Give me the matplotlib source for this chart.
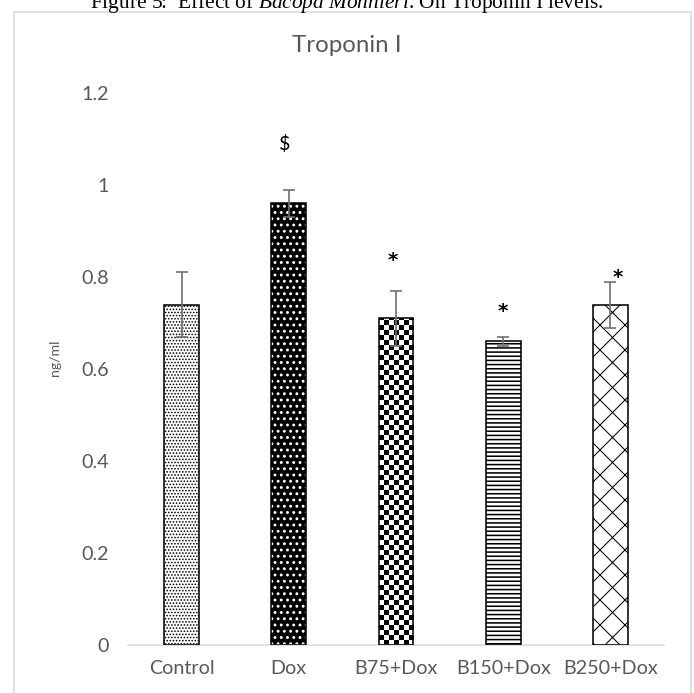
import numpy as np
import matplotlib
matplotlib.use('Agg')
import matplotlib.pyplot as plt
from matplotlib.patches import Rectangle

plt.rcParams['font.family'] = ['Lato', 'DejaVu Sans']
plt.rcParams['mathtext.fontset'] = 'custom'
plt.rcParams['mathtext.rm'] = 'Liberation Serif'
plt.rcParams['mathtext.it'] = 'Liberation Serif:italic'

# data
groups = ['Control', 'Dox', 'B75+Dox', 'B150+Dox', 'B250+Dox']
means = [0.74, 0.96, 0.71, 0.66, 0.74]
errs = [0.07, 0.03, 0.06, 0.01, 0.05]
sig_marks = ['', '$', '*', '*', '*']
sig_y = [0, 1.09, 0.835, 0.725, 0.80]
sig_dx = [0, -0.04, -0.03, 0, 0.07]

DPI = 75
fig = plt.figure(figsize=(694 / DPI, 693 / DPI), dpi=DPI)
ax = fig.add_axes([128 / 694, 48 / 693, 536 / 694, 552 / 693])

grey = '#595959'
x = np.arange(len(groups))
w = 0.326

# Control: fine black dots on white
with plt.rc_context({'hatch.linewidth': 1.0}):
    ax.bar(x[0], means[0], w, color='white', edgecolor='black', hatch='....', lw=0, zorder=2)
# Dox: white dots on black
with plt.rc_context({'hatch.linewidth': 1.6}):
    ax.bar(x[1], means[1], w, color='black', edgecolor='white', hatch='..', lw=0, zorder=2)
# B75: checkerboard
b75 = ax.bar(x[2], means[2], w, color='white', lw=0, zorder=2)[0]
cell_h = 5 / 460
rows = int(np.ceil(means[2] / cell_h))
checker = np.indices((rows, 7)).sum(axis=0) % 2
im = ax.imshow(checker, cmap='gray_r', interpolation='nearest', aspect='auto',
               extent=(x[2] - w / 2, x[2] + w / 2, 0, rows * cell_h), origin='lower', zorder=2)
im.set_clip_path(b75)
# B150: horizontal stripes
with plt.rc_context({'hatch.linewidth': 1.5}):
    ax.bar(x[3], means[3], w, color='white', edgecolor='black', hatch='---', lw=0, zorder=2)
# B250: diamond cross-hatch
with plt.rc_context({'hatch.linewidth': 1.0}):
    ax.bar(x[4], means[4], w, color='white', edgecolor='black', hatch='x', lw=0, zorder=2)

# bar outlines
ax.bar(x, means, w, color='none', edgecolor='black', lw=1.5, zorder=3)

ax.errorbar(x, means, yerr=errs, fmt='none', ecolor='#6f6f6f', elinewidth=1.6,
            capsize=5.5, capthick=1.6, zorder=4)

for i, m in enumerate(sig_marks):
    if m == '$':
        ax.text(x[i] + sig_dx[i], sig_y[i], m, ha='center', va='center',
                fontsize=19, color='black')
    elif m:
        ax.text(x[i] + sig_dx[i], sig_y[i], m, ha='center', va='center',
                fontsize=19, color='black', family='DejaVu Sans', fontweight='bold')

ax.set_xlim(-0.5, 4.5)
ax.set_ylim(0, 1.2)
ax.set_yticks([0, 0.2, 0.4, 0.6, 0.8, 1.0, 1.2])
ax.set_yticklabels(['0', '0.2', '0.4', '0.6', '0.8', '1', '1.2'])
ax.set_xticks(x)
ax.set_xticklabels(groups)
ax.tick_params(length=0, labelsize=19, labelcolor=grey)
ax.tick_params(axis='y', pad=18)
ax.tick_params(axis='x', pad=14)
for s in ['top', 'right', 'left']:
    ax.spines[s].set_visible(False)
ax.spines['bottom'].set_color('#d9d9d9')
ax.spines['bottom'].set_linewidth(1.5)
ax.set_ylabel('ng/ml', fontsize=13.5, color=grey)
ax.yaxis.set_label_coords(-0.125, 0.52)

fig.text(0.5, 1 - 46 / 693, 'Troponin I', ha='center', va='center', fontsize=23, color=grey)

# chart border and clipped caption above it
fig.patches.append(Rectangle((14 / 694, -0.05), 677 / 694, 1.05 - 12 / 693, transform=fig.transFigure,
                             fill=False, edgecolor='#d9d9d9', lw=1.5))
fig.text(0.5, 1 - 8 / 693, r'Figure 5:  Effect of $\it{Bacopa\ Monnieri}$. On Troponin I levels.',
         ha='center', va='baseline', fontsize=20.5, color='black', family='Liberation Serif')

fig.savefig('out.png', dpi=DPI)
